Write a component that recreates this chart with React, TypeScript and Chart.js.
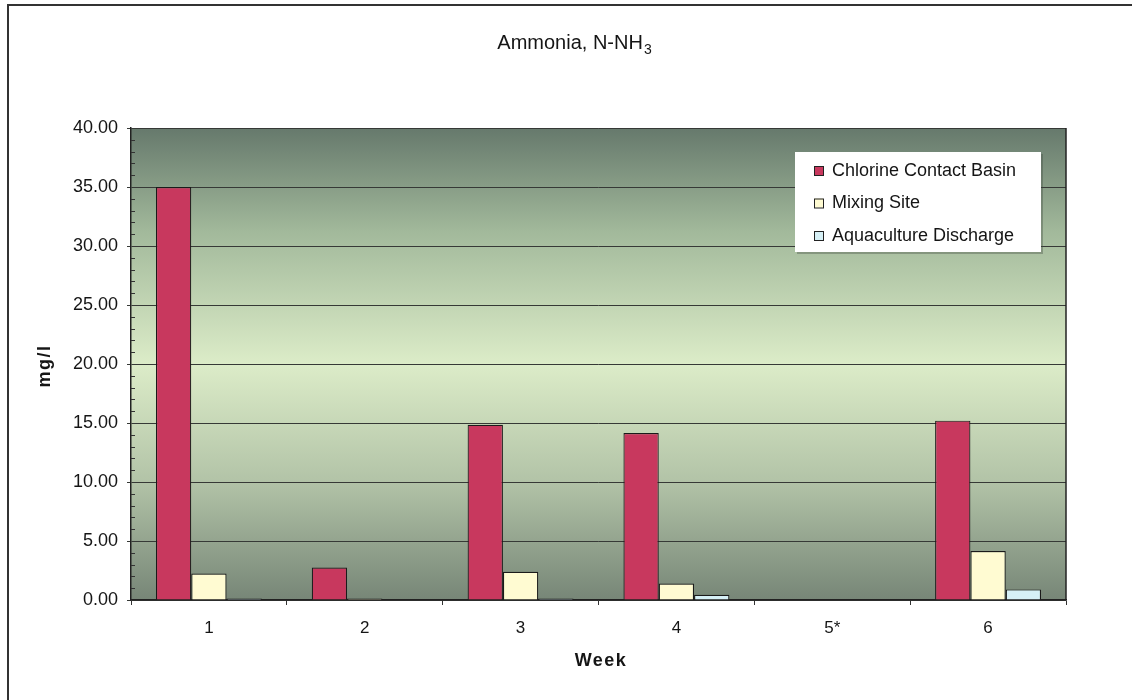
import React, { useEffect, useRef } from "react";
import { Chart, registerables } from "chart.js";

Chart.register(...registerables);

const weeks = ["1", "2", "3", "4", "5*", "6"];
const chlorineContactBasin = [35.0, 2.75, 14.85, 14.15, null, 15.2];
const mixingSite = [2.25, 0.12, 2.4, 1.4, null, 4.15];
const aquacultureDischarge = [0.12, 0, 0.12, 0.45, null, 0.9];
const yTicks = [0, 5, 10, 15, 20, 25, 30, 35, 40];

const FONT = "'Liberation Sans', Arial, sans-serif";
const TEXT = "#151515";

const decorPlugin = {
  id: "decor",
  beforeDraw(chart: any) {
    const { ctx, chartArea: a } = chart;
    ctx.save();
    ctx.fillStyle = "#fff";
    ctx.fillRect(0, 0, chart.width, chart.height);
    const g = ctx.createLinearGradient(0, a.top, 0, a.bottom);
    g.addColorStop(0, "#66796c");
    g.addColorStop(0.22, "#a2b99b");
    g.addColorStop(0.5, "#dcecc8");
    g.addColorStop(0.75, "#b2c3a7");
    g.addColorStop(1, "#778677");
    ctx.fillStyle = g;
    ctx.fillRect(a.left, a.top, a.right - a.left, a.bottom - a.top);
    ctx.restore();
  },
  afterDraw(chart: any) {
    const { ctx, chartArea: a } = chart;
    const y = chart.scales.y;
    ctx.save();
    // outer frame
    ctx.strokeStyle = "#333";
    ctx.lineWidth = 2;
    ctx.beginPath();
    ctx.moveTo(8, chart.height);
    ctx.lineTo(8, 5);
    ctx.lineTo(chart.width, 5);
    ctx.stroke();
    // plot right edge
    ctx.lineWidth = 1.5;
    ctx.strokeStyle = "#222";
    ctx.beginPath();
    ctx.moveTo(a.right, a.top);
    ctx.lineTo(a.right, a.bottom);
    ctx.stroke();
    // minor ticks on value axis
    ctx.lineWidth = 1;
    ctx.strokeStyle = "#333";
    for (let v = 1; v < 40; v++) {
      if (v % 5 === 0) continue;
      const py = Math.round(y.getPixelForValue(v)) + 0.5;
      ctx.beginPath();
      ctx.moveTo(a.left, py);
      ctx.lineTo(a.left + 4, py);
      ctx.stroke();
    }
    // title
    ctx.fillStyle = TEXT;
    ctx.textBaseline = "alphabetic";
    ctx.font = `20px ${FONT}`;
    const main = "Ammonia, N-NH";
    const mw = ctx.measureText(main).width;
    ctx.font = `14px ${FONT}`;
    const sw = ctx.measureText("3").width;
    const x0 = 574 - (mw + sw) / 2;
    ctx.font = `20px ${FONT}`;
    ctx.textAlign = "left";
    ctx.fillText(main, x0, 49);
    ctx.font = `14px ${FONT}`;
    ctx.fillText("3", x0 + mw + 1, 54);
    // axis titles
    ctx.font = `bold 18px ${FONT}`;
    ctx.textAlign = "center";
    ctx.textBaseline = "middle";
    (ctx as any).letterSpacing = "1.5px";
    ctx.fillText("Week", 601, 661);
    ctx.save();
    ctx.translate(45, 366);
    ctx.rotate(-Math.PI / 2);
    ctx.fillText("mg/l", 0, 0);
    ctx.restore();
    (ctx as any).letterSpacing = "0px";
    // legend
    const lx = 795, ly = 152, lw = 246, lh = 100;
    ctx.fillStyle = "rgba(60,70,60,0.35)";
    ctx.fillRect(lx + 2, ly + 2, lw, lh);
    ctx.fillStyle = "#fff";
    ctx.fillRect(lx, ly, lw, lh);
    ctx.font = `18px ${FONT}`;
    ctx.textAlign = "left";
    chart.data.datasets.forEach((ds: any, i: number) => {
      const cy = 170 + i * 32.5;
      ctx.fillStyle = ds.backgroundColor;
      ctx.fillRect(814, cy - 4, 9, 9);
      ctx.strokeStyle = "#222";
      ctx.lineWidth = 1;
      ctx.strokeRect(814.5, cy - 3.5, 9, 9);
      ctx.fillStyle = TEXT;
      ctx.fillText(ds.label, 832, cy + 1);
    });
    ctx.restore();
  },
};

export default function App() {
  const ref = useRef<HTMLCanvasElement>(null);
  useEffect(() => {
    if (!ref.current) return;
    const chart = new Chart(ref.current, {
      type: "bar",
      data: {
        labels: weeks,
        datasets: [
          {
            label: "Chlorine Contact Basin",
            data: chlorineContactBasin,
            backgroundColor: "#c8385e",
            borderColor: "#1a1a1a",
            borderWidth: 1.2,
          },
          {
            label: "Mixing Site",
            data: mixingSite,
            backgroundColor: "#fffbd2",
            borderColor: "#1a1a1a",
            borderWidth: 1.2,
          },
          {
            label: "Aquaculture Discharge",
            data: aquacultureDischarge,
            backgroundColor: "#d6f0f6",
            borderColor: "#1a1a1a",
            borderWidth: 1.2,
          },
        ],
      },
      options: {
        animation: false,
        responsive: false,
        layout: { padding: { left: 0, top: 128, right: 66, bottom: 0 } },
        datasets: { bar: { categoryPercentage: 0.68, barPercentage: 1.0 } },
        plugins: { legend: { display: false }, title: { display: false }, tooltip: { enabled: false } },
        scales: {
          x: {
            afterFit: (s: any) => { s.height = 100; },
            grid: { offset: true, drawOnChartArea: false, tickLength: 5, color: "#333" },
            border: { color: "#222", width: 1.5 },
            ticks: { color: TEXT, font: { family: FONT, size: 17 }, padding: 13 },
          },
          y: {
            min: 0,
            max: 40,
            afterFit: (s: any) => { s.width = 131; },
            afterBuildTicks: (s: any) => { s.ticks = yTicks.map((v) => ({ value: v })); },
            grid: { color: "#363936", lineWidth: 1, tickLength: 4 },
            border: { color: "#222", width: 1.5 },
            ticks: {
              color: TEXT,
              font: { family: FONT, size: 18 },
              padding: 9,
              callback: (v: any) => Number(v).toFixed(2),
            },
          },
        },
      },
      plugins: [decorPlugin],
    });
    return () => chart.destroy();
  }, []);
  return (
    <div style={{ position: "absolute", left: 0, top: 0, width: 1132, height: 700 }}>
      <canvas ref={ref} width={1132} height={700} style={{ display: "block" }} />
    </div>
  );
}
